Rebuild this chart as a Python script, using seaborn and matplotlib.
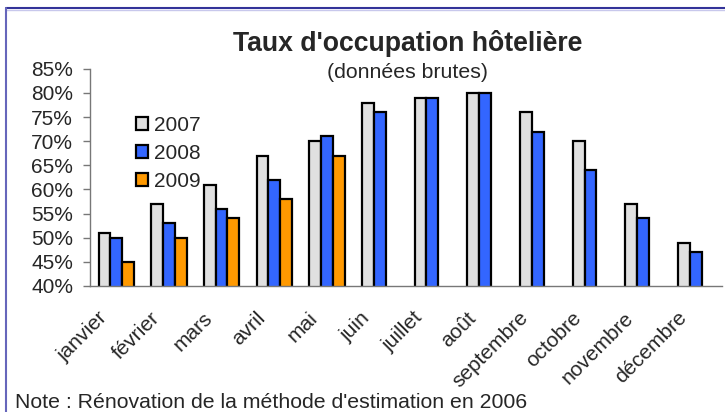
import numpy as np
import pandas as pd
import matplotlib
matplotlib.use("Agg")
import matplotlib.pyplot as plt
from matplotlib.lines import Line2D
from matplotlib.ticker import FuncFormatter, MultipleLocator
from matplotlib.transforms import ScaledTranslation
import seaborn as sns

# Données (taux en %)
months = ["janvier", "février", "mars", "avril", "mai", "juin", "juillet",
          "août", "septembre", "octobre", "novembre", "décembre"]
years = ["2007", "2008", "2009"]
rate_2007 = [51, 57, 61, 67, 70, 78, 79, 80, 76, 70, 57, 49]
rate_2008 = [50, 53, 56, 62, 71, 76, 79, 80, 72, 64, 54, 47]
rate_2009 = [45, 50, 54, 58, 67]
colors = ["#E0E0E0", "#3366FF", "#FF9900"]

rows = []
for year, values in zip(years, [rate_2007, rate_2008, rate_2009]):
    for month, v in zip(months, values):
        rows.append({"mois": month, "annee": year, "taux": v})
df = pd.DataFrame(rows)

sns.set_style("white")
plt.rcParams["font.family"] = ["Liberation Sans", "DejaVu Sans"]

fig = plt.figure(figsize=(7.25, 4.12), dpi=100)
ax = fig.add_axes([0.124, 0.306, 0.872, 0.527])

sns.barplot(data=df, x="mois", y="taux", hue="annee", order=months,
            hue_order=years, palette=colors, saturation=1, width=0.67,
            edgecolor="black", linewidth=1.6, ax=ax)

ax.set_ylim(40, 85)
ax.yaxis.set_major_locator(MultipleLocator(5))
ax.yaxis.set_major_formatter(FuncFormatter(lambda v, _: f"{v:.0f}%"))
ax.set_xlim(-0.5, len(months) - 0.5)
ax.set_xlabel("")
ax.set_ylabel("")

# ticks between groups on the x axis
ax.set_xticks(np.arange(len(months)))
ax.set_xticklabels(months, rotation=45, ha="right", rotation_mode="anchor",
                   fontsize=15)
ax.set_xticks(np.arange(len(months) + 1) - 0.5, minor=True)
ax.tick_params(axis="x", which="major", length=0, pad=16)
ax.tick_params(axis="x", which="minor", length=5, width=1, color="#777777",
               direction="out")
ax.tick_params(axis="y", length=5, width=1, color="#777777", labelsize=15,
               direction="out", left=True, pad=7)
shift = ScaledTranslation(-19 / 100, 0, fig.dpi_scale_trans)
for lbl in ax.get_xticklabels():
    lbl.set_transform(lbl.get_transform() + shift)

for side in ["top", "right"]:
    ax.spines[side].set_visible(False)
for side in ["left", "bottom"]:
    ax.spines[side].set_color("#777777")
    ax.spines[side].set_linewidth(1)

ax.legend(loc="upper left", bbox_to_anchor=(0.056, 0.83), frameon=False,
          fontsize=15, handlelength=0.6, handleheight=0.6,
          handletextpad=0.3, labelspacing=0.42, borderpad=0)

fig.text(0.562, 0.876, "Taux d'occupation hôtelière", ha="center",
         va="baseline", fontsize=19.2, fontweight="bold")
fig.text(0.562, 0.811, "(données brutes)", ha="center", va="baseline",
         fontsize=15.3)
fig.text(0.021, 0.01, "Note : Rénovation de la méthode d'estimation en 2006",
         ha="left", va="baseline", fontsize=15.3)

# cadre du graphique
fig.add_artist(Line2D([6 / 725, 1.0], [1 - 8 / 412, 1 - 8 / 412],
                      color="#333399", lw=1.5))
fig.add_artist(Line2D([6 / 725, 1.0], [1 - 10 / 412, 1 - 10 / 412],
                      color="#C8C8EC", lw=1))
fig.add_artist(Line2D([6 / 725, 6 / 725], [0, 1 - 8 / 412],
                      color="#6666BB", lw=1.5))

fig.savefig("out.png", dpi=100)
